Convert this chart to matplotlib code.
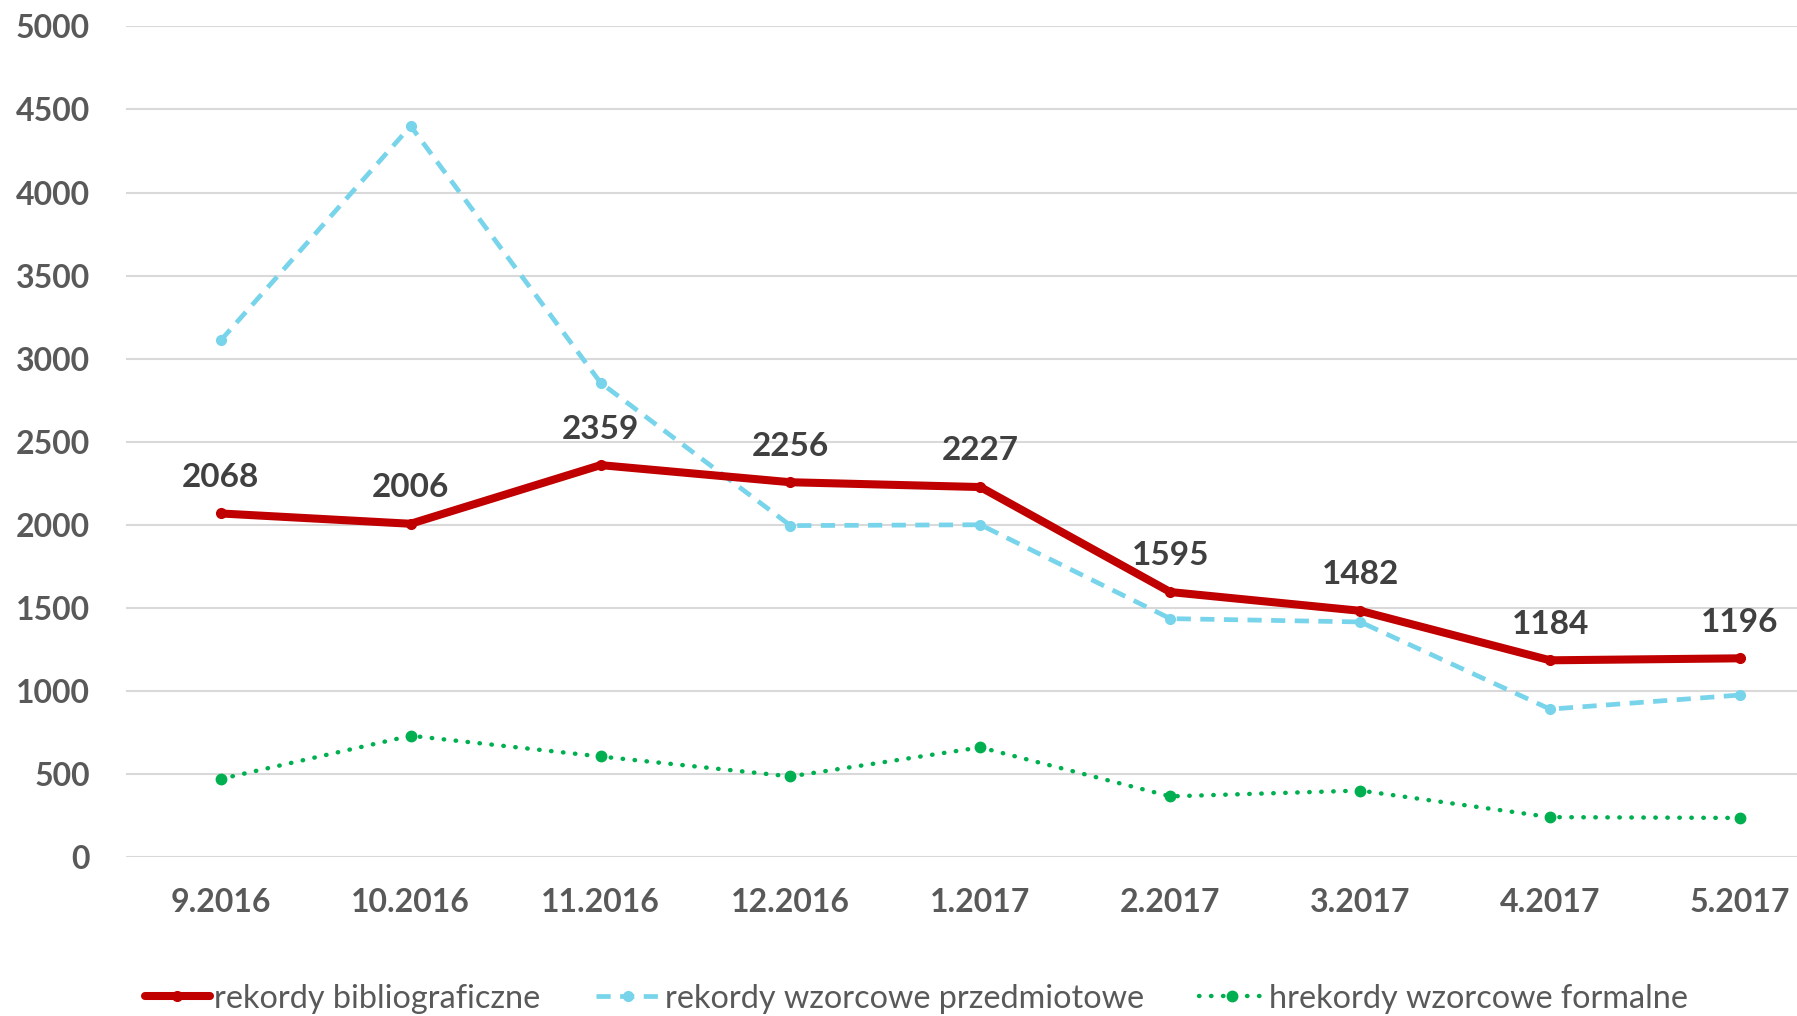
import matplotlib
matplotlib.use("Agg")
import matplotlib.pyplot as plt

categories = ["9.2016", "10.2016", "11.2016", "12.2016", "1.2017", "2.2017", "3.2017", "4.2017", "5.2017"]
bibliograficzne = [2068, 2006, 2359, 2256, 2227, 1595, 1482, 1184, 1196]
przedmiotowe = [3110, 4400, 2855, 1995, 2000, 1435, 1415, 890, 975]
formalne = [470, 730, 605, 485, 660, 365, 400, 240, 235]
yticks = [0, 500, 1000, 1500, 2000, 2500, 3000, 3500, 4000, 4500, 5000]

plt.rcParams['font.family'] = ['Lato', 'DejaVu Sans']

fig = plt.figure(figsize=(17.97, 10.16), dpi=100)
ax = fig.add_axes([0.070, 0.1565, 0.930, 0.8175])

x = list(range(len(categories)))
ax.plot(x, przedmiotowe, color="#78D4EA", lw=3.4, ls=(0, (3, 2)), marker="o", ms=7,
        label="rekordy wzorcowe przedmiotowe", zorder=3)
ax.plot(x, formalne, color="#00B050", lw=3.2, ls=(0, (0.1, 2.6)), dash_capstyle="round", marker="o", ms=7.5,
        label="hrekordy wzorcowe formalne", zorder=3)
ax.plot(x, bibliograficzne, color="#C00000", lw=5.8, marker="o", ms=7, solid_capstyle="round",
        label="rekordy bibliograficzne", zorder=4)

for xi, v in zip(x, bibliograficzne):
    ax.annotate(str(v), (xi, v), xytext=(0, 26), textcoords="offset points",
                ha="center", va="center", fontsize=24, fontweight="bold", color="#404040")

ax.set_ylim(0, 5000)
ax.set_xlim(-0.5, 8.3)
ax.set_yticks(yticks)
ax.set_xticks(x)
ax.set_xticklabels(categories)
for s in ax.spines.values():
    s.set_visible(False)
ax.yaxis.grid(True, color="#D9D9D9", lw=1.5)
ax.set_axisbelow(True)
ax.tick_params(axis="both", length=0, labelsize=23, labelcolor="#595959")
ax.tick_params(axis="y", pad=26)
ax.tick_params(axis="x", pad=22)
for lab in ax.get_xticklabels() + ax.get_yticklabels():
    lab.set_fontweight("bold")

handles, labels = ax.get_legend_handles_labels()
order = [2, 0, 1]
leg = fig.legend([handles[i] for i in order], [labels[i] for i in order],
                 loc="center", bbox_to_anchor=(0.510, 0.017), ncol=3, frameon=False,
                 fontsize=23.3, handlelength=2.0, handletextpad=0.15, columnspacing=1.7,
                 labelcolor="#595959")

fig.savefig("out.png", dpi=100)
